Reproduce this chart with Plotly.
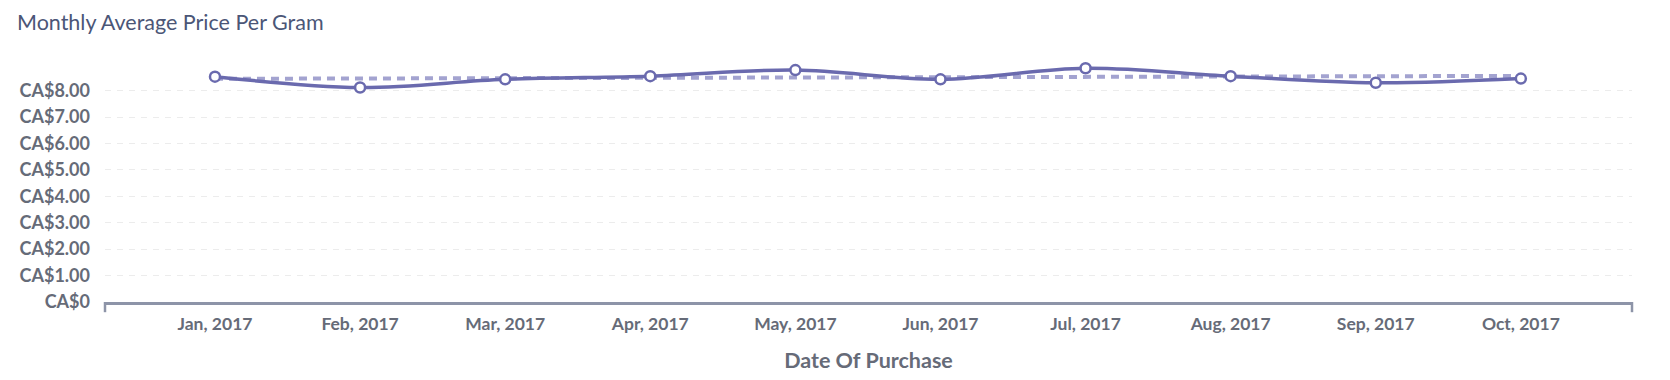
import plotly.graph_objects as go

months = ["Jan, 2017", "Feb, 2017", "Mar, 2017", "Apr, 2017", "May, 2017",
          "Jun, 2017", "Jul, 2017", "Aug, 2017", "Sep, 2017", "Oct, 2017"]
avg_price = [8.53, 8.12, 8.43, 8.55, 8.78, 8.43, 8.85, 8.55, 8.30, 8.46]
trend_months = ["Jan, 2017", "Oct, 2017"]
trend_values = [8.45, 8.56]
y_tickvals = [0, 1, 2, 3, 4, 5, 6, 7, 8]
y_ticktext = ["CA$0", "CA$1.00", "CA$2.00", "CA$3.00", "CA$4.00",
              "CA$5.00", "CA$6.00", "CA$7.00", "CA$8.00"]

LINE = "#6a6aae"
TREND = "#a3a3d0"
TXT = "#666b78"
AX = "#8d94a8"

W, H = 1662, 372

fig = go.Figure()
fig.add_trace(go.Scatter(
    x=trend_months, y=trend_values, mode="lines",
    line=dict(color=TREND, width=4, dash="8px,6px"),
    hoverinfo="skip", showlegend=False))
fig.add_trace(go.Scatter(
    x=months, y=avg_price, mode="lines+markers",
    line=dict(color=LINE, width=3.5, shape="spline", smoothing=1.0),
    marker=dict(size=10, color="white", line=dict(color=LINE, width=2.5)),
    showlegend=False))

fig.update_layout(
    width=W, height=H,
    margin=dict(l=97, r=38, t=51, b=78),
    paper_bgcolor="white", plot_bgcolor="white",
    font=dict(family="Lato", color=TXT),
    title=dict(text="Monthly Average Price Per Gram", x=9/W, xanchor="left",
               xref="container", yref="container",
               y=1-6.5/H, yanchor="top", automargin=False,
               font=dict(family="Lato", size=21.5, color="#4b5677")),
    xaxis=dict(type="category", categoryorder="array", categoryarray=months,
               range=[-0.758, 9.766], showgrid=False, zeroline=False,
               automargin=False,
               showline=True, linecolor=AX, linewidth=2.5,
               ticks="", ticklabelstandoff=4,
               tickfont=dict(family="Lato", size=17.5, color=TXT, weight="bold"),
               title=dict(text="Date Of Purchase", standoff=21,
                          font=dict(family="Lato", size=21.5, color=TXT, weight="bold"))),
    yaxis=dict(range=[0, 9.2], tickvals=y_tickvals, ticktext=y_ticktext,
               automargin=False,
               showgrid=True, gridcolor="#ececec", griddash="6px,6px", gridwidth=1,
               zeroline=False, showline=False, ticks="", ticklabelstandoff=14,
               tickfont=dict(family="Lato", size=18, color=TXT, weight="bold")),
    shapes=[
        dict(type="line", xref="paper", yref="paper", x0=0, x1=0, y0=0, y1=-0.042,
             line=dict(color=AX, width=2.5)),
        dict(type="line", xref="paper", yref="paper", x0=1, x1=1, y0=0, y1=-0.042,
             line=dict(color=AX, width=2.5)),
    ],
)

fig.write_html("out.html")
